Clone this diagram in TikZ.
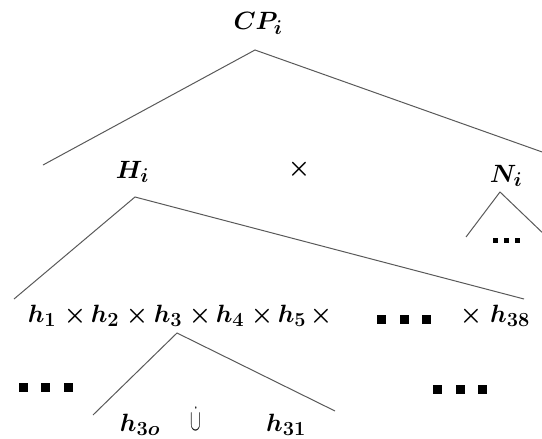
\documentclass[tikz,border=0pt]{standalone}
\usepackage{fix-cm}
\usepackage{amsmath,amssymb}
\usepackage{graphicx}
\usepackage{tikz}
\usetikzlibrary{positioning}

\DeclareMathSizes{25}{25}{20}{16}
\newcommand{\sqdots}[3]{\rule{#1}{#2}\hspace{#3}\rule{#1}{#2}\hspace{#3}\rule{#1}{#2}}
\newcommand{\dcupsym}{\scalebox{0.65}[1.2]{$\dot{\cup}$}}

\begin{document}
\begin{tikzpicture}[x=1pt,y=-1pt,
  lbl/.style={font=\fontsize{25}{30}\selectfont\boldmath,inner sep=0pt,anchor=base},
  sym/.style={font=\fontsize{25}{30}\selectfont,inner sep=0pt,anchor=base},
  blk/.style={inner sep=0pt},
  branch/.style={black!65,line width=1pt}]
  \useasboundingbox (0,0) rectangle (542,439);
  % top level
  \node[lbl] (CP) at (258,30) {$CP_i$};
  \node[lbl] (H) at (132.5,178) {$H_i$};
  \node[lbl] (cross) at (299,175) {$\times$};
  \node[lbl] (N) at (506,182) {$N_i$};
  \node[blk] (ndots) at (506,240) {\sqdots{5pt}{5pt}{6pt}};
  % product row
  \foreach \nm/\xx/\tx in {h1/42/h_1,t1/75/\times,h2/105/h_2,t2/137/\times,h3/168/h_3,
    t3/200/\times,h4/230/h_4,t4/262/\times,h5/292/h_5,t5/321/\times,t6/471/\times,h38/510/h_{38}}
    \node[lbl] (\nm) at (\xx,322) {$\tx$};
  \node[blk] (rowdots) at (404,319.5) {\sqdots{9pt}{9pt}{13.5pt}};
  \node[blk] (ldots) at (46,387) {\sqdots{9pt}{9pt}{13.5pt}};
  \node[blk] (rdots) at (460,389.5) {\sqdots{9pt}{9pt}{13.5pt}};
  % under h_3
  \node[lbl] (h3o) at (140,431) {$h_{3o}$};
  \node[sym] (dcup) at (196,430) {\dcupsym};
  \node[lbl] (h31) at (286,431) {$h_{31}$};
  % branch ends
  \coordinate (cpL) at (43,165);  \coordinate (cpR) at (545,153);
  \coordinate (hL) at (14,299);   \coordinate (hR) at (524,299);
  \coordinate (nL) at (466,237);  \coordinate (nR) at (548,238);
  \coordinate (sL) at (93,415);   \coordinate (sR) at (335,411);
  \draw[branch] (cpL) -- ([xshift=-3pt,yshift=-20pt]CP.base) -- (cpR);
  \draw[branch] (hL) -- ([xshift=2.5pt,yshift=-19pt]H.base) -- (hR);
  \draw[branch] (nL) -- ([xshift=-6pt,yshift=-10pt]N.base) -- (nR);
  \draw[branch] (sL) -- ([xshift=9pt,yshift=-11pt]h3.base) -- (sR);
\end{tikzpicture}
\end{document}
